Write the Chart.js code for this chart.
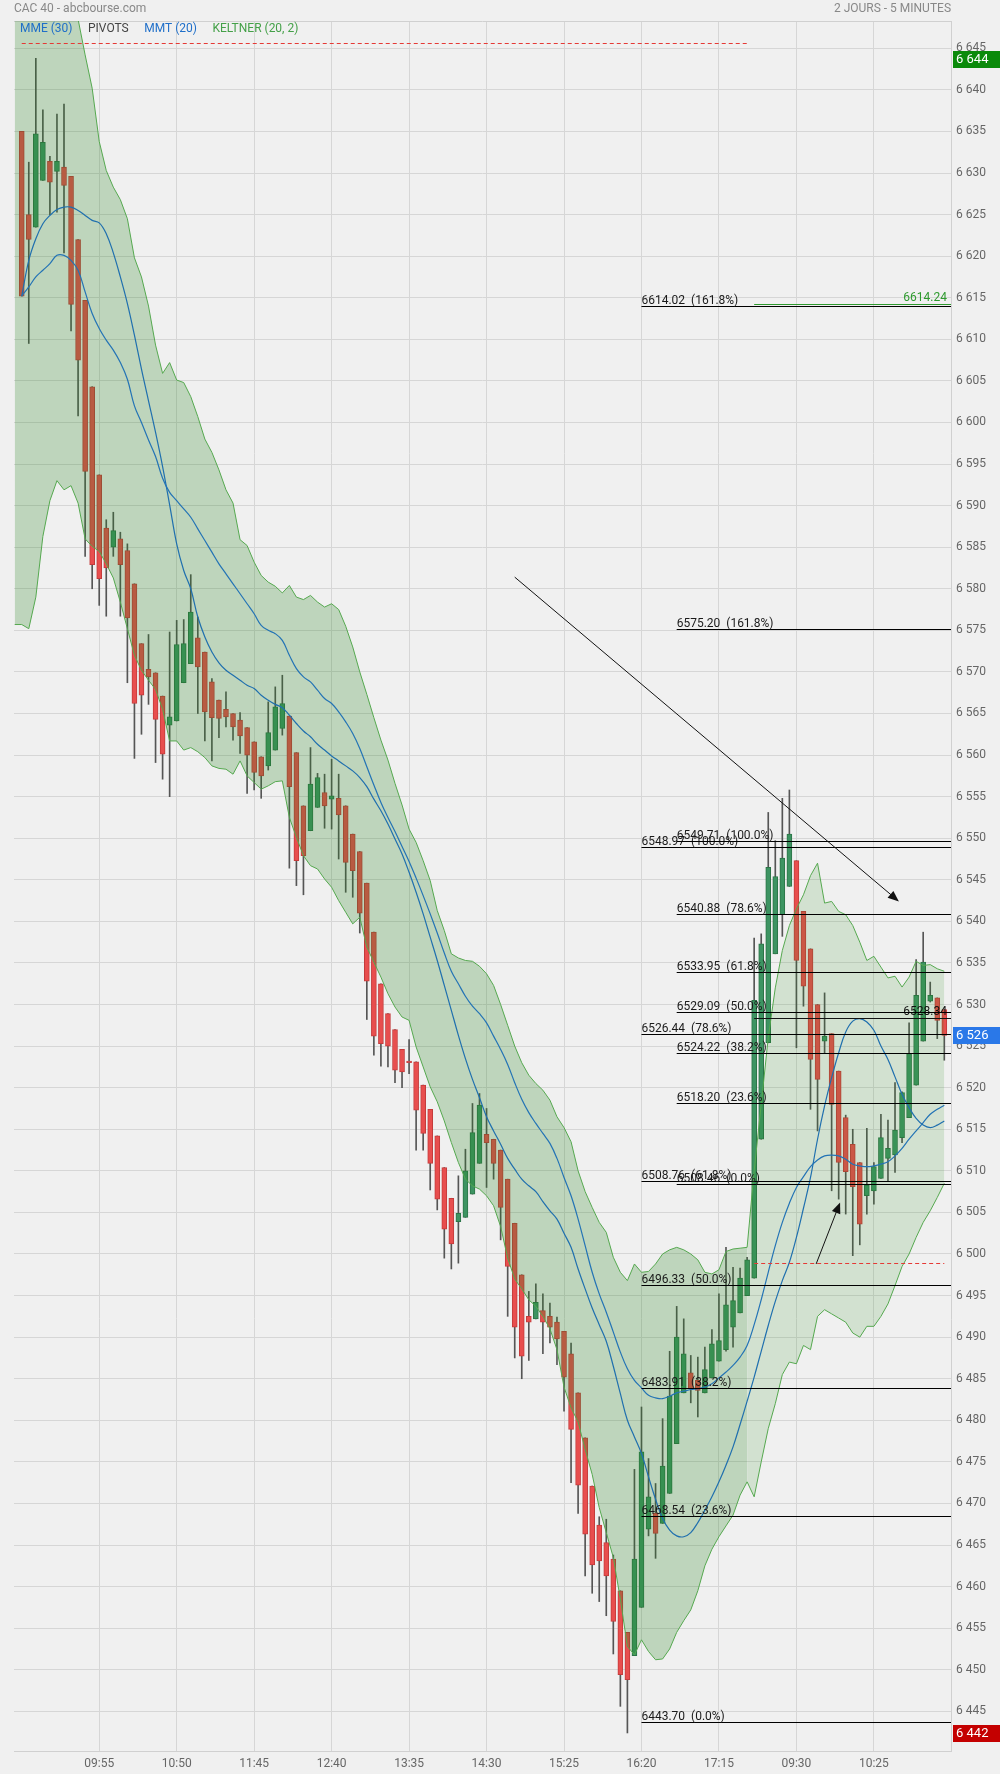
<!DOCTYPE html>
<html lang="fr">
<head>
<meta charset="utf-8">
<title>CAC 40 - 2 jours - 5 minutes</title>
<script src="https://cdn.jsdelivr.net/npm/chart.js@4/dist/chart.umd.min.js"></script>
<style>
  html, body { margin: 0; padding: 0; background: #f0f0f0; }
  #cadre { position: relative; width: 1000px; height: 1774px; }
</style>
</head>
<body>
<div id="cadre"><canvas id="graphe" width="1000" height="1774"></canvas></div>
<script>
/* =====================================================================
   CAC 40 — bougies 5 min sur 2 séances, MME/MMT, Keltner, Fibonacci
   ===================================================================== */

// axe des temps : une bougie par index, étiquette toutes les 11 bougies
const tickIdx = [11, 22, 33, 44, 55, 66, 77, 88, 99, 110, 121];
const tickLabels = ['09:55', '10:50', '11:45', '12:40', '13:35', '14:30', '15:25', '16:20', '17:15', '09:30', '10:25'];

const open = [6635.0,6625.0,6623.5,6629.1,6631.4,6630.2,6630.7,6629.6,6622.0,6614.7,
  6604.3,6593.7,6587.3,6585.0,6586.0,6584.6,6580.6,6573.4,6570.3,6569.9,
  6567.1,6563.6,6564.1,6568.7,6571.0,6574.1,6572.4,6568.8,6566.6,6565.5,
  6565.0,6564.2,6563.3,6561.6,6559.8,6558.7,6560.6,6563.2,6564.7,6560.3,
  6553.9,6550.9,6553.7,6555.5,6554.7,6554.8,6553.9,6550.5,6548.4,6544.6,
  6538.7,6532.5,6528.9,6527.0,6524.6,6523.2,6523.1,6520.3,6517.4,6514.2,
  6510.4,6506.7,6503.9,6504.4,6507.2,6510.9,6514.4,6513.8,6512.5,6509.0,
  6503.7,6497.5,6492.5,6492.2,6493.2,6492.5,6491.8,6490.7,6488.0,6483.3,
  6477.9,6472.1,6467.4,6465.3,6463.3,6459.5,6454.5,6451.7,6457.5,6466.9,
  6468.8,6467.6,6471.2,6477.2,6483.3,6485.7,6484.8,6483.3,6485.1,6487.1,
  6488.5,6491.2,6492.9,6495.0,6497.1,6513.8,6525.4,6536.1,6540.8,6544.2,
  6547.3,6541.2,6536.7,6530.0,6525.6,6526.5,6522.0,6516.4,6513.2,6511.0,
  6507.0,6507.6,6509.1,6511.5,6511.9,6514.0,6516.4,6520.3,6525.6,6530.4,
  6530.8,6529.4];
const high = [6635.0,6631.3,6643.8,6637.6,6632.0,6637.1,6638.3,6629.6,6622.0,6614.7,
  6604.3,6593.7,6588.3,6589.2,6586.8,6585.4,6580.6,6573.4,6574.5,6569.9,
  6567.1,6574.8,6576.2,6576.3,6581.7,6576.6,6572.4,6569.2,6566.6,6567.6,
  6565.0,6565.1,6563.3,6561.6,6559.8,6566.4,6568.2,6569.6,6564.7,6560.3,
  6553.9,6560.9,6557.8,6557.7,6559.5,6557.7,6553.9,6550.5,6548.4,6544.6,
  6538.7,6532.5,6528.9,6527.0,6524.6,6525.8,6523.1,6520.3,6517.4,6514.2,
  6510.4,6506.7,6509.4,6512.6,6518.1,6519.3,6517.5,6513.8,6512.5,6509.0,
  6503.7,6497.5,6495.5,6496.4,6495.2,6494.1,6492.4,6490.7,6489.3,6483.3,
  6477.9,6472.1,6468.4,6468.1,6463.8,6459.5,6454.5,6474.1,6481.6,6475.4,
  6472.4,6480.2,6488.3,6493.7,6492.2,6487.8,6487.6,6488.8,6490.9,6495.2,
  6500.8,6498.4,6498.3,6499.6,6538.0,6538.5,6553.1,6549.7,6554.8,6555.8,
  6547.3,6541.2,6536.7,6530.0,6531.4,6526.5,6522.0,6516.7,6515.0,6511.0,
  6515.1,6511.0,6516.8,6516.1,6520.6,6519.5,6527.8,6535.4,6538.7,6532.7,
  6530.8,6529.4];
const low = [6615.2,6609.5,6623.5,6629.1,6625.0,6625.3,6620.4,6611.0,6600.8,6583.9,
  6580.0,6578.0,6576.7,6583.9,6576.7,6568.7,6559.6,6562.5,6566.1,6559.1,
  6557.1,6555.0,6564.1,6568.7,6571.0,6565.0,6561.7,6559.3,6562.1,6563.4,
  6561.8,6560.2,6555.4,6555.8,6554.8,6558.2,6560.6,6562.4,6546.4,6544.3,
  6543.2,6550.9,6553.7,6551.2,6551.1,6547.5,6543.5,6542.9,6538.6,6528.2,
  6523.9,6522.6,6522.5,6520.6,6520.0,6521.7,6512.5,6512.5,6507.7,6505.3,
  6499.5,6498.2,6498.9,6504.4,6507.2,6510.9,6508.0,6509.0,6501.7,6492.5,
  6487.5,6485.0,6487.2,6492.2,6488.0,6489.3,6486.7,6481.1,6472.5,6468.8,
  6461.3,6459.2,6458.2,6456.5,6451.9,6445.6,6442.4,6451.7,6457.5,6466.1,
  6463.4,6467.6,6471.2,6477.2,6483.3,6482.1,6480.4,6483.3,6485.1,6487.1,
  6488.3,6488.8,6492.9,6495.0,6497.1,6513.8,6525.4,6536.1,6538.2,6544.2,
  6524.8,6529.8,6517.4,6514.8,6524.1,6507.6,6506.6,6504.8,6499.8,6501.1,
  6504.8,6506.0,6509.1,6508.8,6509.8,6513.4,6516.4,6520.3,6525.6,6530.3,
  6525.9,6523.3];
const close = [6615.2,6622.0,6634.7,6633.7,6628.9,6631.4,6628.5,6614.2,6607.5,6594.1,
  6582.9,6581.2,6582.5,6587.0,6582.9,6576.5,6566.2,6567.2,6569.4,6564.3,
  6560.1,6564.6,6573.3,6573.4,6577.2,6570.6,6565.2,6564.5,6564.4,6564.6,
  6563.4,6562.3,6560.0,6557.9,6557.5,6562.7,6565.8,6566.2,6556.2,6547.3,
  6547.9,6556.5,6557.3,6553.9,6555.1,6552.8,6547.1,6546.1,6541.0,6532.8,
  6526.2,6525.3,6525.0,6522.1,6521.9,6523.0,6517.3,6514.5,6510.9,6506.6,
  6503.0,6501.2,6504.9,6510.0,6514.6,6517.9,6513.4,6510.9,6505.6,6498.5,
  6491.2,6487.7,6491.8,6494.2,6491.8,6491.2,6489.8,6485.2,6478.9,6472.2,
  6466.3,6462.6,6463.1,6461.3,6455.8,6449.4,6448.8,6463.3,6476.2,6470.8,
  6466.4,6474.5,6482.9,6490.0,6488.0,6483.8,6483.6,6486.1,6489.2,6489.6,
  6493.9,6494.4,6497.1,6499.3,6530.5,6537.3,6546.5,6545.4,6547.6,6550.5,
  6535.3,6532.2,6523.4,6521.0,6526.2,6518.0,6511.0,6509.9,6508.1,6503.6,
  6508.3,6510.5,6514.0,6512.7,6514.9,6519.4,6524.1,6531.1,6535.1,6531.1,
  6528.1,6526.3];

// moyennes mobiles
const mmt20 = [6615.2,6619.5,6622.1,6623.9,6624.9,6625.6,6625.9,6625.9,6625.5,6624.9,
  6624.3,6624.0,6622.7,6620.4,6617.5,6614.3,6610.5,6606.4,6602.6,6598.8,
  6594.7,6590.1,6585.4,6582.2,6580.0,6576.6,6574.2,6572.4,6571.1,6570.2,
  6569.6,6569.0,6568.4,6568.0,6567.2,6566.6,6566.1,6565.7,6564.8,6563.8,
  6562.9,6562.2,6561.3,6560.6,6559.9,6559.3,6558.7,6558.1,6557.3,6556.2,
  6554.7,6553.3,6551.7,6549.9,6548.1,6545.9,6543.5,6540.9,6538.1,6535.3,
  6532.3,6529.3,6526.3,6523.5,6521.0,6518.8,6516.5,6514.8,6513.2,6511.5,
  6510.2,6509.0,6508.2,6507.5,6506.3,6505.2,6504.2,6502.5,6500.8,6498.2,
  6495.8,6493.5,6491.5,6489.5,6486.5,6483.2,6480.0,6478.0,6476.0,6473.2,
  6470.5,6468.2,6466.8,6466.1,6466.0,6466.5,6467.7,6469.2,6470.8,6472.6,
  6474.6,6476.8,6479.5,6482.3,6485.2,6488.3,6491.4,6494.3,6496.8,6499.0,
  6502.0,6505.5,6509.2,6513.8,6517.8,6521.2,6524.2,6526.7,6528.0,6528.3,
  6527.9,6526.9,6525.0,6523.4,6521.3,6519.2,6517.6,6516.3,6515.5,6515.2,
  6515.5,6516.0];
const mme30 = [6615.2,6616.3,6617.5,6618.3,6619.1,6620.1,6620.1,6619.5,6618.3,6615.7,
  6613.1,6611.3,6609.9,6608.7,6607.2,6605.2,6602.0,6600.0,6597.9,6595.9,
  6593.3,6591.6,6590.6,6589.6,6588.6,6587.2,6585.8,6584.4,6583.0,6581.8,
  6580.6,6579.4,6578.2,6577.0,6575.6,6575.0,6574.6,6573.8,6572.0,6570.4,
  6569.4,6568.8,6567.8,6566.8,6566.2,6565.2,6564.0,6562.6,6560.8,6558.6,
  6556.4,6554.3,6552.5,6550.8,6549.0,6547.2,6545.2,6543.1,6540.9,6538.6,
  6536.2,6534.0,6532.5,6531.0,6529.8,6528.9,6527.8,6526.2,6524.6,6522.8,
  6520.6,6518.6,6517.0,6515.7,6514.5,6513.3,6511.5,6509.2,6507.0,6504.2,
  6501.0,6497.8,6495.2,6493.0,6490.6,6488.2,6486.2,6484.8,6483.9,6483.0,
  6482.7,6482.6,6482.9,6483.3,6483.5,6483.7,6483.8,6484.0,6484.4,6485.1,
  6485.8,6486.6,6487.6,6489.0,6491.5,6494.5,6497.8,6501.0,6503.8,6506.1,
  6508.0,6509.3,6510.5,6511.3,6511.8,6511.9,6511.8,6511.4,6510.8,6510.6,
  6510.5,6510.6,6510.8,6511.1,6511.8,6512.7,6513.8,6514.8,6515.8,6516.8,
  6517.4,6517.9];

// Keltner (20, 2) : séance 1 (index -1..103, le premier point vient de la veille)
// puis séance 2 (index 103..131)
const debutSeance1 = -1;
const keltHaut1 = [6660,6660,6660,6659,6658,6657,6655,6653,6651,6648.5,6644.2,
  6640.2,6633.8,6630.3,6628.3,6626.8,6624.5,6619.8,6617.5,6614.0,6609.3,
  6605.9,6607.2,6605.1,6604.8,6603.1,6600.7,6598.0,6596.4,6594.3,6591.9,
  6590.3,6585.9,6585.2,6583.2,6581.6,6580.8,6580.3,6579.5,6580.4,6579.0,
  6578.7,6579.2,6578.4,6577.8,6578.2,6577.5,6575.5,6573.0,6570.0,6567.3,
  6564.5,6561.8,6559.4,6556.6,6554.0,6551.1,6549.5,6547.3,6544.9,6541.3,
  6538.9,6536.1,6535.6,6535.3,6535.2,6534.6,6533.7,6532.3,6530.0,6527.5,
  6525.0,6523.0,6521.5,6520.5,6519.7,6518.5,6516.5,6515.2,6513.5,6510.0,
  6507.5,6505.6,6503.8,6502.6,6499.6,6497.8,6496.8,6498.8,6497.8,6497.9,
  6498.8,6500.0,6500.5,6500.8,6500.5,6500.0,6499.3,6497.8,6497.6,6498.1,
  6500.3,6500.6,6500.7,6500.8];
const keltBas1 = [6575.7,6575.7,6575.2,6579.0,6586.3,6590.6,6593.0,6591.9,6592.4,6590.3,6586.0,
  6585.1,6584.5,6583.0,6581.3,6578.4,6575.2,6572.0,6570.2,6569.0,6567.9,
  6565.5,6561.7,6561.7,6560.6,6560.9,6560.4,6559.7,6558.7,6558.4,6558.3,
  6557.7,6559.3,6557.5,6556.7,6555.9,6556.3,6556.8,6556.9,6552.5,6550.1,
  6547.9,6546.7,6546.3,6545.1,6544.1,6542.5,6541.1,6539.7,6540.5,6536.9,
  6535.1,6533.3,6531.3,6529.7,6528.5,6528.1,6524.9,6522.5,6520.1,6518.3,
  6516.0,6513.4,6511.0,6509.0,6508.2,6507.8,6507.0,6505.8,6503.3,6499.5,
  6497.0,6495.8,6494.5,6493.7,6492.5,6491.0,6488.5,6484.0,6481.5,6479.8,
  6476.5,6473.5,6469.5,6466.5,6463.5,6458.5,6452.8,6451.8,6453.6,6452.2,
  6451.2,6451.3,6452.5,6454.5,6455.9,6457.2,6459.5,6462.5,6464.5,6466.0,
  6467.3,6468.6,6471.0,6472.6];
const debutSeance2 = 103;
const keltHaut2 = [6500.8,6510.0,6518.0,6526.0,6532.0,6536.5,6539.5,6541.5,6543.2,6545.5,
  6547.0,6542.2,6542.4,6541.2,6540.8,6539.5,6537.5,6535.3,6535.8,6534.5,
  6533.2,6533.4,6532.1,6533.3,6535.2,6534.7,6534.8,6534.3,6534.0];
const keltBas2 = [6472.6,6470.8,6475.0,6479.0,6482.0,6485.5,6487.0,6486.8,6489.0,6488.5,
  6492.5,6493.3,6492.8,6492.3,6491.8,6490.5,6490.0,6491.3,6491.3,6492.5,
  6494.0,6496.2,6498.5,6500.0,6502.0,6503.8,6505.2,6506.8,6508.5];

// retracements de Fibonacci
const fibGauche = [6614.02, 6548.97, 6526.44, 6508.76, 6496.33, 6483.91, 6468.54, 6443.70];
const fibGauchePct = ['161.8%', '100.0%', '78.6%', '61.8%', '50.0%', '38.2%', '23.6%', '0.0%'];
const fibDroite = [6575.20, 6549.71, 6540.88, 6533.95, 6529.09, 6524.22, 6518.20, 6508.46];
const fibDroitePct = ['161.8%', '100.0%', '78.6%', '61.8%', '50.0%', '38.2%', '23.6%', '0.0%'];
const fibDebut = [88, 93];

// pivots (pointillés rouges) et niveaux de la séance 2
const pivots = [6645.6, 6498.9];
const pivotsDe = [0, 104];
const pivotsA = [103, 131];
const niveaux = [6528.34, 6614.24];
const niveauxCouleur = ['#111', '#2e9a2e'];
const niveauxDe = 104;

// flèches dessinées à la main (index, cours)
const flecheDe = [[70, 6581.4], [112.8, 6498.8]];
const flecheA = [[124.55, 6542.4], [116.2, 6506.2]];

// étiquettes de prix sur l'axe : plus haut, dernier, plus bas
const etiquettesPrix = [6643.7, 6526.3, 6442.4];
const etiquettesCouleur = ['#0a8a0a', '#2a78e8', '#c40000'];

const legende = ['MME (30)', 'PIVOTS', 'MMT (20)', 'KELTNER (20, 2)'];
const legendeCouleur = ['#1f6fc9', '#444', '#1f6fc9', '#44a048'];

const VERT = '#3d9462', VERT_BORD = '#2c7447';
const ROUGE = '#e84e4e', ROUGE_BORD = '#c43b3b';
const KELT = '#55a84f';
const MM = '#2373b5';
const FONT = "Roboto, 'Noto Sans', sans-serif";

Chart.defaults.font.family = FONT;
Chart.defaults.font.size = 12;
Chart.defaults.color = '#666';

const pts = (arr, debut) => arr.map((v, k) => ({ x: debut + k, y: v }));
const fmt = v => String(Math.round(v)).replace(/\B(?=(\d{3})+(?!\d))/g, ' ');
const hausse = open.map((o, i) => close[i] >= o);

function fleche(ctx, x1, y1, x2, y2) {
  const a = Math.atan2(y2 - y1, x2 - x1), c = Math.cos(a), s = Math.sin(a);
  ctx.beginPath(); ctx.moveTo(x1, y1); ctx.lineTo(x2 - 8 * c, y2 - 8 * s); ctx.stroke();
  ctx.beginPath(); ctx.moveTo(x2, y2);
  ctx.lineTo(x2 - 11 * c + 4.5 * s, y2 - 11 * s - 4.5 * c);
  ctx.lineTo(x2 - 11 * c - 4.5 * s, y2 - 11 * s + 4.5 * c);
  ctx.closePath(); ctx.fill();
}

const decor = {
  id: 'decor',
  beforeDatasetsDraw(chart) {
    const { ctx, chartArea: a } = chart;
    ctx.save();
    ctx.strokeStyle = '#d0d0d0'; ctx.lineWidth = 1;
    ctx.beginPath(); ctx.moveTo(a.left, a.top + 0.5); ctx.lineTo(a.right, a.top + 0.5); ctx.stroke();
    ctx.restore();
  },
  afterDatasetsDraw(chart) {
    const { ctx, chartArea: a, scales: { x, y } } = chart;
    const px = i => x.getPixelForValue(i), py = v => Math.round(y.getPixelForValue(v)) + 0.5;
    ctx.save();
    ctx.beginPath(); ctx.rect(a.left, a.top, a.width, a.height); ctx.clip();

    // pivots
    ctx.strokeStyle = '#e53935'; ctx.lineWidth = 1; ctx.setLineDash([4, 3]);
    pivots.forEach((v, k) => {
      ctx.beginPath(); ctx.moveTo(px(pivotsDe[k]), py(v)); ctx.lineTo(px(pivotsA[k]), py(v)); ctx.stroke();
    });
    ctx.setLineDash([]);

    // niveaux séance 2
    ctx.font = '12px ' + FONT; ctx.textAlign = 'right'; ctx.textBaseline = 'alphabetic';
    niveaux.forEach((v, k) => {
      ctx.strokeStyle = niveauxCouleur[k]; ctx.fillStyle = niveauxCouleur[k];
      ctx.beginPath(); ctx.moveTo(px(niveauxDe), py(v)); ctx.lineTo(a.right, py(v)); ctx.stroke();
      ctx.fillText(v.toFixed(2), a.right - 4, py(v) - 4);
    });

    // Fibonacci
    ctx.strokeStyle = '#000'; ctx.fillStyle = '#1a1a1a'; ctx.textAlign = 'left';
    [[fibGauche, fibGauchePct], [fibDroite, fibDroitePct]].forEach(([vals, pct], g) => {
      const x0 = px(fibDebut[g]);
      vals.forEach((v, k) => {
        ctx.beginPath(); ctx.moveTo(x0, py(v)); ctx.lineTo(a.right, py(v)); ctx.stroke();
        ctx.fillText(v.toFixed(2) + '  (' + pct[k] + ')', x0, py(v) - 3);
      });
    });

    // flèches
    ctx.strokeStyle = '#111'; ctx.fillStyle = '#111'; ctx.lineWidth = 1;
    flecheDe.forEach((d, k) => {
      fleche(ctx, px(d[0]), y.getPixelForValue(d[1]), px(flecheA[k][0]), y.getPixelForValue(flecheA[k][1]));
    });

    // légende des indicateurs
    ctx.font = '12px ' + FONT; ctx.textAlign = 'left'; ctx.textBaseline = 'middle';
    let lx = 20;
    legende.forEach((t, k) => {
      ctx.fillStyle = legendeCouleur[k];
      ctx.fillText(t, lx, 29);
      lx += ctx.measureText(t).width + 15.5;
    });
    ctx.restore();
  },
  afterDraw(chart) {
    const { ctx, chartArea: a, scales: { y } } = chart;
    ctx.save();
    ctx.font = '12px ' + FONT; ctx.fillStyle = '#888'; ctx.textBaseline = 'middle';
    ctx.textAlign = 'left'; ctx.fillText('CAC 40 - abcbourse.com', 14, 8.5);
    ctx.textAlign = 'right'; ctx.fillText('2 JOURS - 5 MINUTES', a.right, 8.5);

    ctx.font = '13px ' + FONT; ctx.textAlign = 'left';
    etiquettesPrix.forEach((v, k) => {
      const yy = Math.round(y.getPixelForValue(v));
      ctx.fillStyle = etiquettesCouleur[k];
      ctx.fillRect(a.right + 2, yy - 8, 1000 - a.right - 2, 17);
      ctx.fillStyle = '#fff';
      ctx.fillText(fmt(v), a.right + 5, yy + 0.5);
    });
    ctx.restore();
  }
};

new Chart(document.getElementById('graphe'), {
  type: 'bar',
  data: {
    datasets: [
      { label: 'mèches', data: low.map((l, i) => ({ x: i, y: [l, high[i]] })),
        backgroundColor: '#555', barThickness: 1, grouped: false, order: 10 },
      { label: 'corps', data: open.map((o, i) => ({ x: i, y: [o, close[i]] })),
        backgroundColor: hausse.map(h => h ? VERT : ROUGE), borderColor: hausse.map(h => h ? VERT_BORD : ROUGE_BORD),
        borderWidth: 1, borderSkipped: false, barThickness: 5, minBarLength: 1, grouped: false, order: 9 },
      { type: 'line', label: 'Keltner haut 1', data: pts(keltHaut1, debutSeance1), borderColor: KELT, borderWidth: 1,
        pointRadius: 0, tension: 0, fill: '+1', backgroundColor: 'rgba(40,130,30,0.25)', order: 6 },
      { type: 'line', label: 'Keltner bas 1', data: pts(keltBas1, debutSeance1), borderColor: KELT, borderWidth: 1,
        pointRadius: 0, tension: 0, fill: false, order: 5 },
      { type: 'line', label: 'Keltner haut 2', data: pts(keltHaut2, debutSeance2), borderColor: KELT, borderWidth: 1,
        pointRadius: 0, tension: 0, fill: '+1', backgroundColor: 'rgba(40,140,30,0.15)', order: 6 },
      { type: 'line', label: 'Keltner bas 2', data: pts(keltBas2, debutSeance2), borderColor: KELT, borderWidth: 1,
        pointRadius: 0, tension: 0, fill: false, order: 5 },
      { type: 'line', label: 'MME (30)', data: pts(mme30, 0), borderColor: MM, borderWidth: 1.2,
        pointRadius: 0, tension: 0.4, fill: false, order: 2 },
      { type: 'line', label: 'MMT (20)', data: pts(mmt20, 0), borderColor: '#1f6fae', borderWidth: 1.2,
        pointRadius: 0, tension: 0.4, fill: false, order: 2 }
    ]
  },
  plugins: [decor],
  options: {
    responsive: false, animation: false, devicePixelRatio: 1,
    layout: { padding: { left: 14, top: 21, right: 0, bottom: 0 } },
    plugins: { legend: { display: false }, tooltip: { enabled: false } },
    scales: {
      x: {
        type: 'linear', min: -1.1, max: 131.95, offset: false,
        grid: { color: '#d6d6d6', drawTicks: false, offset: false },
        border: { display: true, color: '#d0d0d0' },
        afterBuildTicks: s => { s.ticks = tickIdx.map(v => ({ value: v })); },
        afterFit: s => { s.height = 23; },
        ticks: { autoSkip: false, maxRotation: 0, padding: 6, color: '#666', font: { size: 12 },
          callback: v => tickLabels[tickIdx.indexOf(v)] || '' }
      },
      y: {
        position: 'right', min: 6440.23, max: 6648.28, beginAtZero: false,
        grid: { color: '#d6d6d6', drawTicks: false },
        border: { display: true, color: '#d0d0d0' },
        afterBuildTicks: s => { const t = []; for (let v = 6445; v <= 6645; v += 5) t.push({ value: v }); s.ticks = t; },
        afterFit: s => { s.width = 49; },
        ticks: { autoSkip: false, padding: 5, color: '#666', font: { size: 12 }, callback: v => fmt(v) }
      }
    }
  }
});
</script>
</body>
</html>
